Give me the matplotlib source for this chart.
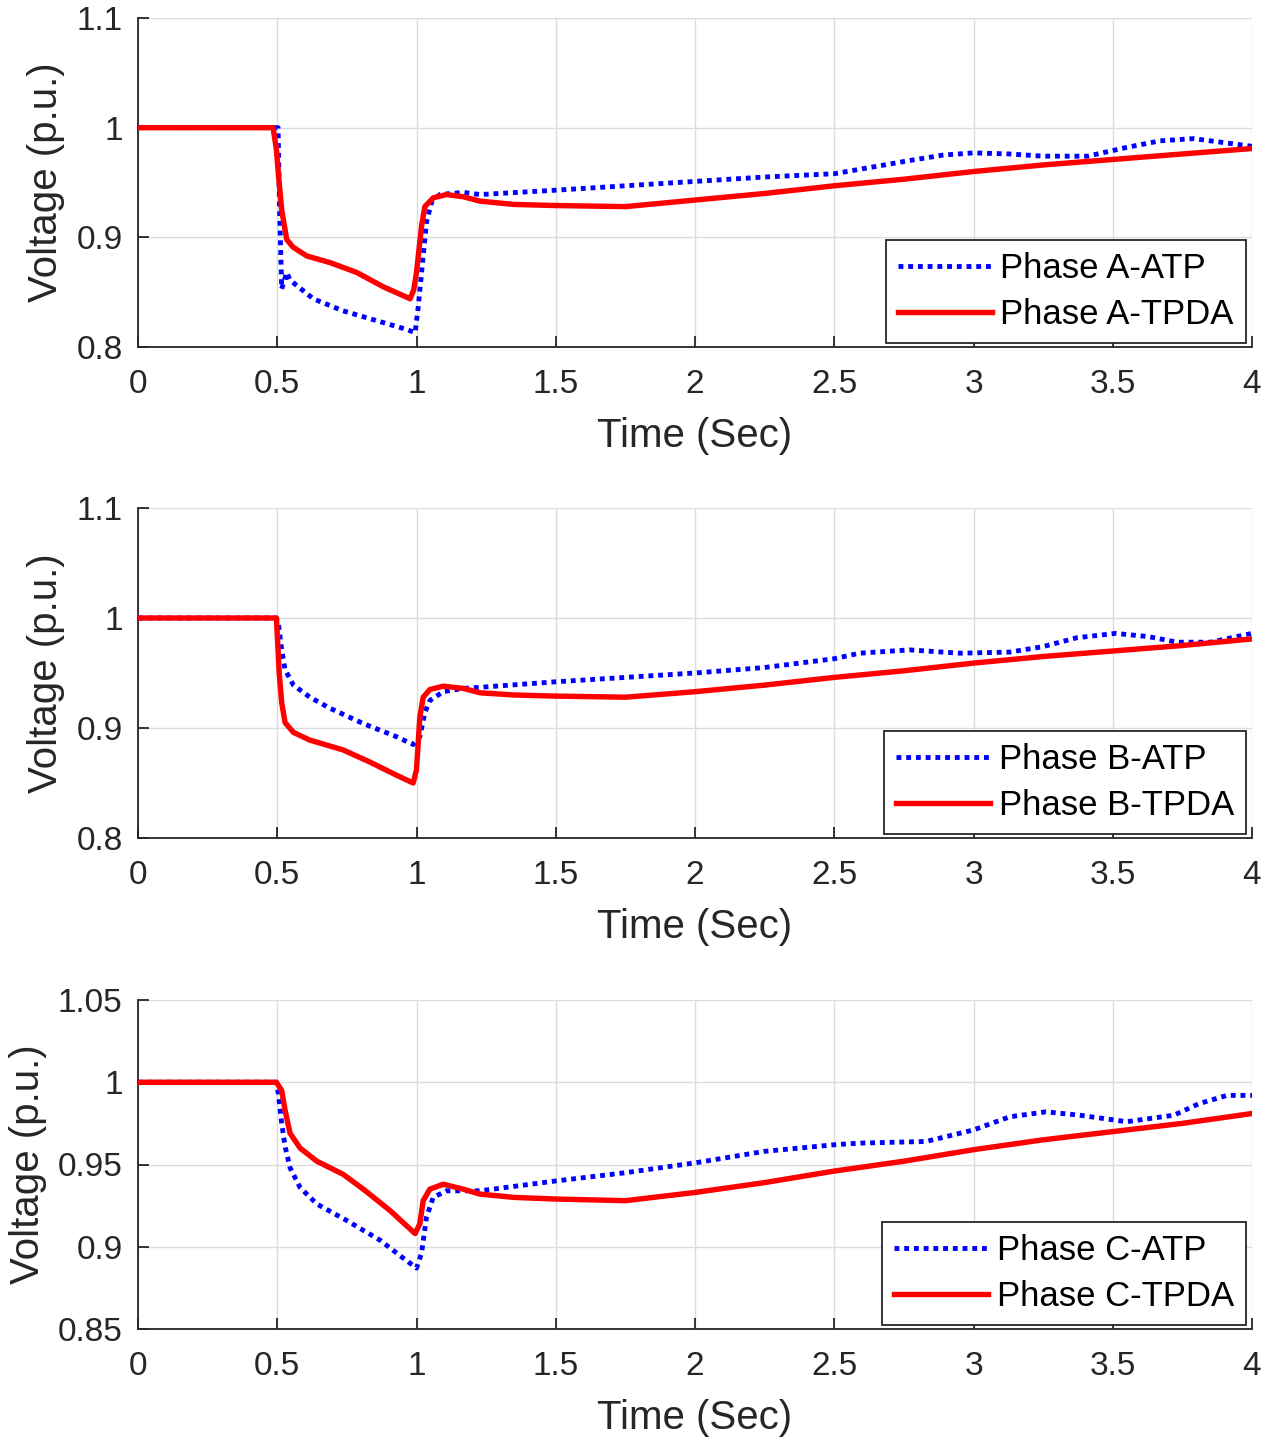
import matplotlib
matplotlib.use("Agg")
import matplotlib.pyplot as plt

plt.rcParams['font.family'] = ['Liberation Sans', 'DejaVu Sans']

# ---------------- data ----------------
# Phase A
tA_tpda = [0, 0.485, 0.497, 0.505, 0.516, 0.534, 0.557, 0.606, 0.689, 0.785, 0.88, 0.977,
           0.99, 1.0, 1.018, 1.03, 1.06, 1.108, 1.168, 1.228, 1.35, 1.5, 1.75, 2.0, 2.25,
           2.5, 2.75, 3.0, 3.25, 3.5, 3.75, 4.0]
vA_tpda = [1.0, 1.0, 0.98, 0.955, 0.925, 0.898, 0.891, 0.883, 0.877, 0.868, 0.855, 0.844,
           0.852, 0.868, 0.910, 0.928, 0.936, 0.939, 0.937, 0.933, 0.930, 0.929, 0.928, 0.934,
           0.940, 0.947, 0.953, 0.960, 0.966, 0.971, 0.976, 0.981]
tA_atp = [0, 0.503, 0.508, 0.516, 0.534, 0.546, 0.629, 0.736, 0.857, 0.965, 0.995, 1.006,
          1.024, 1.036, 1.054, 1.084, 1.168, 1.228, 1.5, 2.0, 2.25, 2.5, 2.59, 2.77, 2.89,
          3.0, 3.13, 3.25, 3.41, 3.55, 3.67, 3.79, 3.91, 4.0]
vA_atp = [1.0, 1.0, 0.93, 0.853, 0.868, 0.861, 0.844, 0.833, 0.824, 0.816, 0.813, 0.836,
          0.883, 0.914, 0.932, 0.939, 0.941, 0.939, 0.943, 0.951, 0.955, 0.958, 0.962, 0.970,
          0.975, 0.977, 0.976, 0.974, 0.974, 0.982, 0.988, 0.990, 0.986, 0.983]

# Phase B
tB_tpda = [0, 0.497, 0.507, 0.516, 0.528, 0.558, 0.617, 0.737, 0.833, 0.929, 0.988, 1.0,
           1.012, 1.024, 1.048, 1.096, 1.168, 1.228, 1.35, 1.5, 1.75, 2.0, 2.25, 2.5, 2.75,
           3.0, 3.25, 3.5, 3.75, 4.0]
vB_tpda = [1.0, 1.0, 0.95, 0.923, 0.905, 0.896, 0.889, 0.880, 0.869, 0.857, 0.850, 0.862,
           0.910, 0.928, 0.935, 0.938, 0.936, 0.932, 0.930, 0.929, 0.928, 0.933, 0.939, 0.946,
           0.952, 0.959, 0.965, 0.970, 0.975, 0.981]
tB_atp = [0, 0.497, 0.504, 0.516, 0.528, 0.558, 0.617, 0.689, 0.809, 0.929, 0.988, 1.012,
          1.03, 1.048, 1.096, 1.168, 1.228, 1.5, 2.0, 2.25, 2.5, 2.59, 2.77, 2.95, 3.13,
          3.25, 3.37, 3.51, 3.63, 3.73, 3.85, 4.0]
vB_atp = [1.0, 1.0, 0.995, 0.971, 0.953, 0.939, 0.928, 0.918, 0.904, 0.892, 0.885, 0.892,
          0.914, 0.925, 0.933, 0.936, 0.937, 0.942, 0.950, 0.955, 0.963, 0.968, 0.971, 0.968,
          0.969, 0.974, 0.982, 0.986, 0.983, 0.978, 0.978, 0.986]

# Phase C
tC_tpda = [0, 0.497, 0.516, 0.528, 0.546, 0.582, 0.642, 0.737, 0.809, 0.905, 0.995, 1.012,
           1.024, 1.048, 1.096, 1.168, 1.228, 1.35, 1.5, 1.75, 2.0, 2.25, 2.5, 2.75, 3.0,
           3.25, 3.5, 3.75, 4.0]
vC_tpda = [1.0, 1.0, 0.995, 0.983, 0.969, 0.960, 0.952, 0.944, 0.935, 0.922, 0.908, 0.914,
           0.928, 0.935, 0.938, 0.935, 0.932, 0.930, 0.929, 0.928, 0.933, 0.939, 0.946, 0.952,
           0.959, 0.965, 0.970, 0.975, 0.981]
tC_atp = [0, 0.497, 0.504, 0.516, 0.528, 0.546, 0.582, 0.642, 0.749, 0.869, 0.953, 1.0,
          1.018, 1.036, 1.06, 1.108, 1.228, 1.5, 1.75, 2.0, 2.25, 2.5, 2.59, 2.83, 3.0,
          3.13, 3.26, 3.38, 3.55, 3.72, 3.81, 3.91, 4.0]
vC_atp = [1.0, 1.0, 0.993, 0.975, 0.961, 0.948, 0.936, 0.926, 0.916, 0.904, 0.893, 0.887,
          0.896, 0.918, 0.930, 0.934, 0.934, 0.940, 0.945, 0.951, 0.958, 0.962, 0.963, 0.964,
          0.971, 0.979, 0.982, 0.980, 0.976, 0.980, 0.987, 0.992, 0.992]

panels = [
    dict(t_atp=tA_atp, v_atp=vA_atp, t_tpda=tA_tpda, v_tpda=vA_tpda,
         labels=['Phase A-ATP', 'Phase A-TPDA'], ylim=(0.8, 1.1),
         yticks=[0.8, 0.9, 1.0, 1.1], yticklabels=['0.8', '0.9', '1', '1.1']),
    dict(t_atp=tB_atp, v_atp=vB_atp, t_tpda=tB_tpda, v_tpda=vB_tpda,
         labels=['Phase B-ATP', 'Phase B-TPDA'], ylim=(0.8, 1.1),
         yticks=[0.8, 0.9, 1.0, 1.1], yticklabels=['0.8', '0.9', '1', '1.1']),
    dict(t_atp=tC_atp, v_atp=vC_atp, t_tpda=tC_tpda, v_tpda=vC_tpda,
         labels=['Phase C-ATP', 'Phase C-TPDA'], ylim=(0.85, 1.05),
         yticks=[0.85, 0.9, 0.95, 1.0, 1.05],
         yticklabels=['0.85', '0.9', '0.95', '1', '1.05']),
]
xticks = [0, 0.5, 1, 1.5, 2, 2.5, 3, 3.5, 4]
xticklabels = ['0', '0.5', '1', '1.5', '2', '2.5', '3', '3.5', '4']

# ---------------- figure ----------------
W, H = 1273, 1437
fig = plt.figure(figsize=(W / 100, H / 100), dpi=100)
dark = '#262626'
boxes = [(18, 347), (508, 838), (1000, 1329)]
left, right = 138, 1252

for p, (top, bot) in zip(panels, boxes):
    ax = fig.add_axes([left / W, 1 - bot / H, (right - left) / W, (bot - top) / H])
    ax.plot(p['t_atp'], p['v_atp'], color='#0000ff', lw=3.5, linestyle=(0, (1, 1.0)),
            label=p['labels'][0], zorder=3)
    ax.plot(p['t_tpda'], p['v_tpda'], color='#ff0000', lw=3.9, solid_joinstyle='round',
            label=p['labels'][1], zorder=4)
    ax.set_xlim(0, 4)
    ax.set_ylim(*p['ylim'])
    ax.set_xticks(xticks)
    ax.set_xticklabels(xticklabels)
    ax.set_yticks(p['yticks'])
    ax.set_yticklabels(p['yticklabels'])
    ax.grid(True, color='#dcdcdc', lw=1.0)
    ax.set_axisbelow(True)
    for s in ['top', 'right']:
        ax.spines[s].set_visible(False)
    for s in ['left', 'bottom']:
        ax.spines[s].set_color(dark)
        ax.spines[s].set_linewidth(1.3)
    ax.tick_params(direction='in', length=8, width=1.3, colors=dark, labelsize=24)
    ax.tick_params(axis='x', pad=16)
    ax.tick_params(axis='y', pad=11)
    ax.set_xlabel('Time (Sec)', fontsize=29, color=dark, labelpad=12)
    ax.set_ylabel('Voltage (p.u.)', fontsize=29, color=dark, labelpad=8)
    leg = ax.legend(loc='lower right', bbox_to_anchor=(0.9946, 0.012), borderaxespad=0,
                    fontsize=25, fancybox=False, framealpha=1, edgecolor=dark,
                    handlelength=2.7, handletextpad=0.25, labelspacing=0.38,
                    borderpad=0.35)
    leg.get_frame().set_linewidth(1.3)

fig.savefig('out.png', dpi=100)
